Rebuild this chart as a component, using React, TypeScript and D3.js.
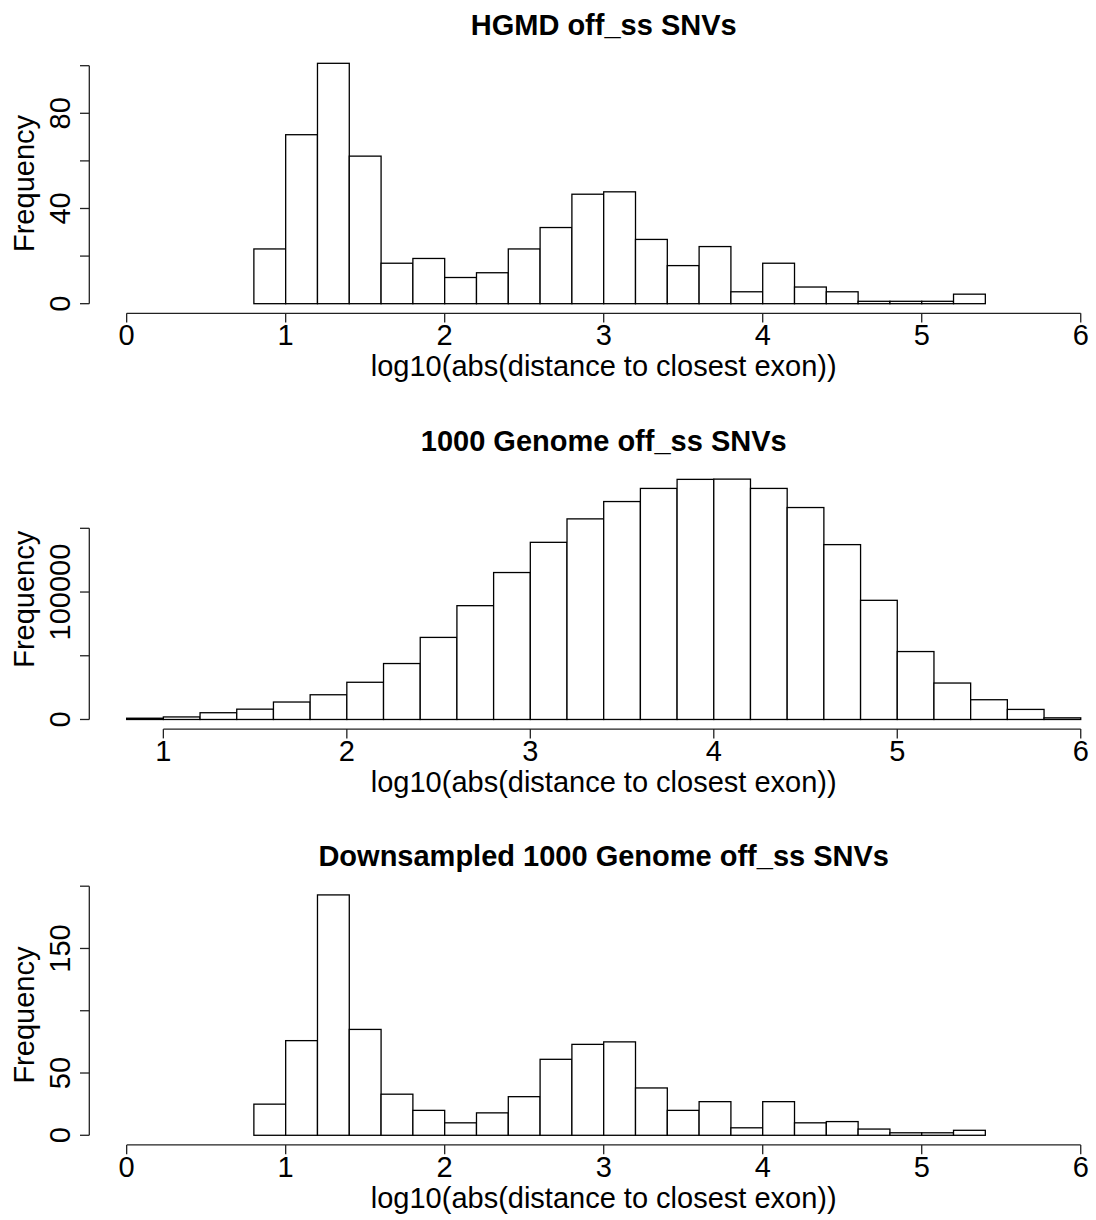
import React from "react";
import * as d3 from "d3";

// ---- data ----
const hgmdBreaks = [0.8, 1.0, 1.2, 1.4, 1.6, 1.8, 2.0, 2.2, 2.4, 2.6, 2.8, 3.0, 3.2, 3.4, 3.6, 3.8, 4.0, 4.2, 4.4, 4.6, 4.8, 5.0, 5.2, 5.4];
const hgmdCounts = [23, 71, 101, 62, 17, 19, 11, 13, 23, 32, 46, 47, 27, 16, 24, 5, 17, 7, 5, 1, 1, 1, 4];

const genomeBreaks = [0.8, 1.0, 1.2, 1.4, 1.6, 1.8, 2.0, 2.2, 2.4, 2.6, 2.8, 3.0, 3.2, 3.4, 3.6, 3.8, 4.0, 4.2, 4.4, 4.6, 4.8, 5.0, 5.2, 5.4, 5.6, 5.8, 6.0];
const genomeCounts = [1000, 2000, 5300, 8100, 13700, 19400, 29200, 43900, 64400, 89300, 115300, 139000, 157400, 171000, 181300, 188400, 188600, 181300, 166300, 137200, 93500, 53300, 28600, 15500, 7900, 1300];

const downBreaks = [0.8, 1.0, 1.2, 1.4, 1.6, 1.8, 2.0, 2.2, 2.4, 2.6, 2.8, 3.0, 3.2, 3.4, 3.6, 3.8, 4.0, 4.2, 4.4, 4.6, 4.8, 5.0, 5.2, 5.4];
const downCounts = [25, 76, 193, 85, 33, 20, 10, 18, 31, 61, 73, 75, 38, 20, 27, 6, 27, 10, 11, 5, 2, 2, 4];

const titles = ["HGMD off_ss SNVs", "1000 Genome off_ss SNVs", "Downsampled 1000 Genome off_ss SNVs"];
const xLabel = "log10(abs(distance to closest exon))";
const yLabel = "Frequency";

const xTicksFull = [0, 1, 2, 3, 4, 5, 6];
const xTicksGenome = [1, 2, 3, 4, 5, 6];
const yTicksHgmd = [0, 20, 40, 60, 80, 100];
const yLabelsHgmd = [0, 40, 80];
const yTicksGenome = [0, 50000, 100000, 150000];
const yLabelsGenome = [0, 100000];
const yTicksDown = [0, 50, 100, 150, 200];
const yLabelsDown = [0, 50, 150];

// ---- layout ----
const W = 1096;
const H = 1220;
const plotLeft = 88.5;
const plotRight = 1118.9;
const plotTop0 = 53.7;
const plotBottom0 = 313.3;
const panelStep = 415.8;
const FONT = "'Liberation Sans', Arial, Helvetica, sans-serif";
const FS = 29;

const panels = [
  { title: titles[0], breaks: hgmdBreaks, counts: hgmdCounts, xlim: [0, 6], xTicks: xTicksFull, yTicks: yTicksHgmd, yLabels: yLabelsHgmd },
  { title: titles[1], breaks: genomeBreaks, counts: genomeCounts, xlim: [0.8, 6], xTicks: xTicksGenome, yTicks: yTicksGenome, yLabels: yLabelsGenome },
  { title: titles[2], breaks: downBreaks, counts: downCounts, xlim: [0, 6], xTicks: xTicksFull, yTicks: yTicksDown, yLabels: yLabelsDown },
];

function Panel({ p, idx }: { p: any; idx: number }) {
  const top = plotTop0 + idx * panelStep;
  const bottom = plotBottom0 + idx * panelStep;
  const [xlo, xhi] = p.xlim;
  const xr = xhi - xlo;
  const x = d3.scaleLinear().domain([xlo - 0.04 * xr, xhi + 0.04 * xr]).range([plotLeft, plotRight]);
  const maxC = d3.max(p.counts as number[]) as number;
  const y = d3.scaleLinear().domain([-0.04 * maxC, 1.04 * maxC]).range([bottom, top]);
  const cx = (plotLeft + plotRight) / 2;
  const cy = (top + bottom) / 2;
  const yTickFirst = p.yTicks[0];
  const yTickLast = p.yTicks[p.yTicks.length - 1];
  const xTickFirst = p.xTicks[0];
  const xTickLast = p.xTicks[p.xTicks.length - 1];
  const axisCol = "#222";
  return (
    <g>
      {/* bars */}
      {p.counts.map((c: number, i: number) => (
        <rect
          key={i}
          x={x(p.breaks[i])}
          y={y(c)}
          width={x(p.breaks[i + 1]) - x(p.breaks[i])}
          height={y(0) - y(c)}
          fill="#fff"
          stroke="#000"
          strokeWidth={1.3}
        />
      ))}
      {/* title */}
      <text x={cx} y={top - 19} textAnchor="middle" fontFamily={FONT} fontSize={FS} fontWeight="bold" fill="#000">
        {p.title}
      </text>
      {/* x axis */}
      <line x1={x(xTickFirst)} x2={x(xTickLast)} y1={bottom} y2={bottom} stroke={axisCol} strokeWidth={1.3} />
      {p.xTicks.map((t: number) => (
        <g key={t}>
          <line x1={x(t)} x2={x(t)} y1={bottom} y2={bottom + 9.3} stroke={axisCol} strokeWidth={1.3} />
          <text x={x(t)} y={bottom + 32} textAnchor="middle" fontFamily={FONT} fontSize={FS} fill="#000">
            {t}
          </text>
        </g>
      ))}
      <text x={cx} y={bottom + 63} textAnchor="middle" fontFamily={FONT} fontSize={FS} fill="#000">
        {xLabel}
      </text>
      {/* y axis */}
      <line x1={plotLeft + 0.8} x2={plotLeft + 0.8} y1={y(yTickFirst)} y2={y(yTickLast)} stroke={axisCol} strokeWidth={1.3} />
      {p.yTicks.map((t: number) => (
        <line key={t} x1={plotLeft + 0.8 - 9.3} x2={plotLeft + 0.8} y1={y(t)} y2={y(t)} stroke={axisCol} strokeWidth={1.3} />
      ))}
      {p.yLabels.map((t: number) => (
        <text
          key={"l" + t}
          transform={`translate(69.5,${y(t)}) rotate(-90)`}
          textAnchor="middle"
          fontFamily={FONT}
          fontSize={FS}
          fill="#000"
        >
          {t}
        </text>
      ))}
      <text transform={`translate(34,${cy}) rotate(-90)`} textAnchor="middle" fontFamily={FONT} fontSize={FS} fill="#000">
        {yLabel}
      </text>
    </g>
  );
}

export default function App() {
  return (
    <svg
      width={W}
      height={H}
      viewBox={`0 0 ${W} ${H}`}
      style={{ position: "absolute", left: 0, top: 0, display: "block", background: "#fff" }}
    >
      <rect x={0} y={0} width={W} height={H} fill="#fff" />
      {panels.map((p, i) => (
        <Panel key={i} p={p} idx={i} />
      ))}
    </svg>
  );
}
